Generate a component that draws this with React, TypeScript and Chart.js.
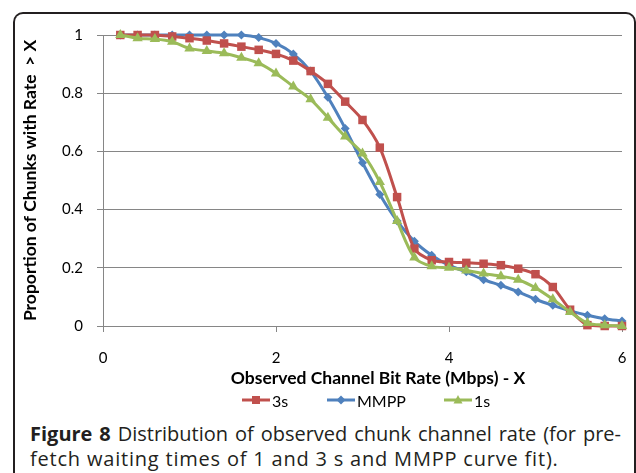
import React, { useEffect, useRef } from "react";
import { Chart, registerables } from "chart.js";

Chart.register(...registerables);

const rates = [0.2, 0.4, 0.6, 0.8, 1.0, 1.2, 1.4, 1.6, 1.8, 2.0, 2.2, 2.4, 2.6, 2.8, 3.0, 3.2, 3.4, 3.6, 3.8, 4.0, 4.2, 4.4, 4.6, 4.8, 5.0, 5.2, 5.4, 5.6, 5.8, 6.0];
const series3s = [1.0, 1.0, 1.0, 0.995, 0.989, 0.981, 0.971, 0.96, 0.949, 0.935, 0.912, 0.876, 0.832, 0.771, 0.708, 0.613, 0.443, 0.266, 0.226, 0.22, 0.217, 0.214, 0.209, 0.197, 0.178, 0.134, 0.056, 0.003, 0.0, 0.0];
const seriesMMPP = [1.0, 1.0, 1.0, 1.0, 1.0, 1.0, 1.0, 1.0, 0.991, 0.971, 0.935, 0.876, 0.786, 0.679, 0.561, 0.452, 0.361, 0.291, 0.243, 0.208, 0.186, 0.159, 0.14, 0.117, 0.092, 0.071, 0.052, 0.037, 0.025, 0.017];
const series1s = [1.0, 0.989, 0.986, 0.977, 0.954, 0.945, 0.937, 0.922, 0.903, 0.868, 0.823, 0.779, 0.716, 0.651, 0.593, 0.495, 0.361, 0.235, 0.205, 0.2, 0.191, 0.18, 0.171, 0.159, 0.131, 0.092, 0.048, 0.01, 0.003, 0.0];
const seriesNames = ["3s", "MMPP", "1s"];
const xTitle = "Observed Channel Bit Rate (Mbps) - X";
const yTitle = "Proportion of Chunks with Rate  > X";

const RED = "#C0504D";
const BLUE = "#4F81BD";
const GREEN = "#9BBB59";
const GRID = "#868686";
const FONT = "Lato, 'Open Sans', sans-serif";

const toPoints = (vals: number[]) => rates.map((x, i) => ({ x, y: vals[i] }));

function LegendSwatch({ color, shape }: { color: string; shape: string }) {
  let marker: React.ReactNode = null;
  if (shape === "square") marker = <rect x={10} y={3} width={8} height={8} fill={color} />;
  if (shape === "diamond") marker = <polygon points="14,2.5 18.5,7 14,11.5 9.5,7" fill={color} />;
  if (shape === "triangle") marker = <polygon points="14,2 18.5,10.5 9.5,10.5" fill={color} />;
  return (
    <svg width={28} height={14} style={{ display: "block" }}>
      <line x1={0} y1={7} x2={28} y2={7} stroke={color} strokeWidth={3} />
      {marker}
    </svg>
  );
}

export default function App() {
  const ref = useRef<HTMLCanvasElement | null>(null);

  useEffect(() => {
    if (!ref.current) return;
    const chart = new Chart(ref.current, {
      type: "line",
      data: {
        datasets: [
          {
            label: seriesNames[0],
            data: toPoints(series3s),
            borderColor: RED,
            backgroundColor: RED,
            borderWidth: 3,
            pointStyle: "rect",
            pointRadius: 6,
            pointBorderWidth: 0,
            tension: 0.3,
            order: 2,
            clip: false,
          },
          {
            label: seriesNames[1],
            data: toPoints(seriesMMPP),
            borderColor: BLUE,
            backgroundColor: BLUE,
            borderWidth: 3,
            pointStyle: "rectRot",
            pointRadius: 4.5,
            pointBorderWidth: 0,
            tension: 0.3,
            order: 3,
            clip: false,
          },
          {
            label: seriesNames[2],
            data: toPoints(series1s),
            borderColor: GREEN,
            backgroundColor: GREEN,
            borderWidth: 3,
            pointStyle: "triangle",
            pointRadius: 6,
            pointBorderWidth: 0,
            tension: 0.3,
            order: 1,
            clip: false,
          },
        ] as any,
      },
      options: {
        animation: false,
        responsive: false,
        layout: { padding: { top: 35, right: 14, left: 0, bottom: 0 } },
        plugins: {
          legend: { display: false },
          tooltip: { enabled: false },
        },
        scales: {
          x: {
            type: "linear",
            min: 0,
            max: 6,
            ticks: {
              stepSize: 2,
              padding: 17,
              color: "#000",
              font: { family: FONT, size: 15 },
            },
            grid: {
              drawOnChartArea: false,
              drawTicks: true,
              tickLength: 6,
              color: GRID,
              tickColor: GRID,
            },
            border: { display: true, color: GRID, width: 1 },
            afterFit: (scale: any) => {
              scale.height = 61;
              scale.paddingRight = 0;
              scale.paddingLeft = 0;
            },
          },
          y: {
            min: 0,
            max: 1,
            ticks: {
              stepSize: 0.2,
              padding: 14,
              color: "#000",
              font: { family: FONT, size: 15 },
              callback: (v: any) => String(Math.round(Number(v) * 10) / 10),
            },
            grid: {
              color: GRID,
              tickColor: GRID,
              tickLength: 6,
              lineWidth: 1,
            },
            border: { display: true, color: GRID, width: 1 },
            title: {
              display: true,
              text: yTitle,
              color: "#000",
              font: { family: FONT, size: 17.5, weight: "bold" },
              padding: { top: 19.5, bottom: 0 },
            },
            afterFit: (scale: any) => {
              scale.width = 103;
            },
          },
        },
      } as any,
    });
    return () => chart.destroy();
  }, []);

  const legendItems = [
    { left: 242, color: RED, shape: "square", text: seriesNames[0] },
    { left: 327, color: BLUE, shape: "diamond", text: seriesNames[1] },
    { left: 444, color: GREEN, shape: "triangle", text: seriesNames[2] },
  ];

  return (
    <div style={{ position: "absolute", left: 0, top: 0, width: 636, height: 473, overflow: "hidden", background: "#fff" }}>
      <div
        style={{
          position: "absolute",
          left: 13,
          top: 12,
          width: 623,
          height: 480,
          boxSizing: "border-box",
          border: "2px solid #231f20",
          borderBottom: "none",
          borderRadius: "10px 10px 0 0",
        }}
      />
      <canvas ref={ref} width={636} height={387} style={{ position: "absolute", left: 0, top: 0, display: "block" }} />
      <div
        style={{
          position: "absolute",
          left: 178,
          top: 368,
          width: 400,
          height: 20,
          lineHeight: "20px",
          textAlign: "center",
          fontFamily: FONT,
          fontWeight: "bold",
          fontSize: 17.5,
          color: "#000",
          whiteSpace: "nowrap",
        }}
      >
        {xTitle}
      </div>
      {legendItems.map((it) => (
        <div
          key={it.text}
          style={{ position: "absolute", left: it.left, top: 391, height: 18, display: "flex", alignItems: "center", fontFamily: FONT, fontSize: 16, color: "#000" }}
        >
          <LegendSwatch color={it.color} shape={it.shape} />
          <span style={{ marginLeft: 2 }}>{it.text}</span>
        </div>
      ))}
      <div
        style={{
          position: "absolute",
          left: 30,
          top: 421,
          width: 591,
          fontFamily: "'Open Sans', sans-serif",
          fontSize: 20,
          lineHeight: "25px",
          color: "#231f20",
        }}
      >
        <div style={{ textAlign: "justify", textAlignLast: "justify" as any, whiteSpace: "nowrap" }}>
          <b>Figure 8</b> Distribution of observed chunk channel rate (for pre-
        </div>
        <div style={{ whiteSpace: "nowrap", letterSpacing: "0.8px" }}>fetch waiting times of 1 and 3 s and MMPP curve fit).</div>
      </div>
    </div>
  );
}
